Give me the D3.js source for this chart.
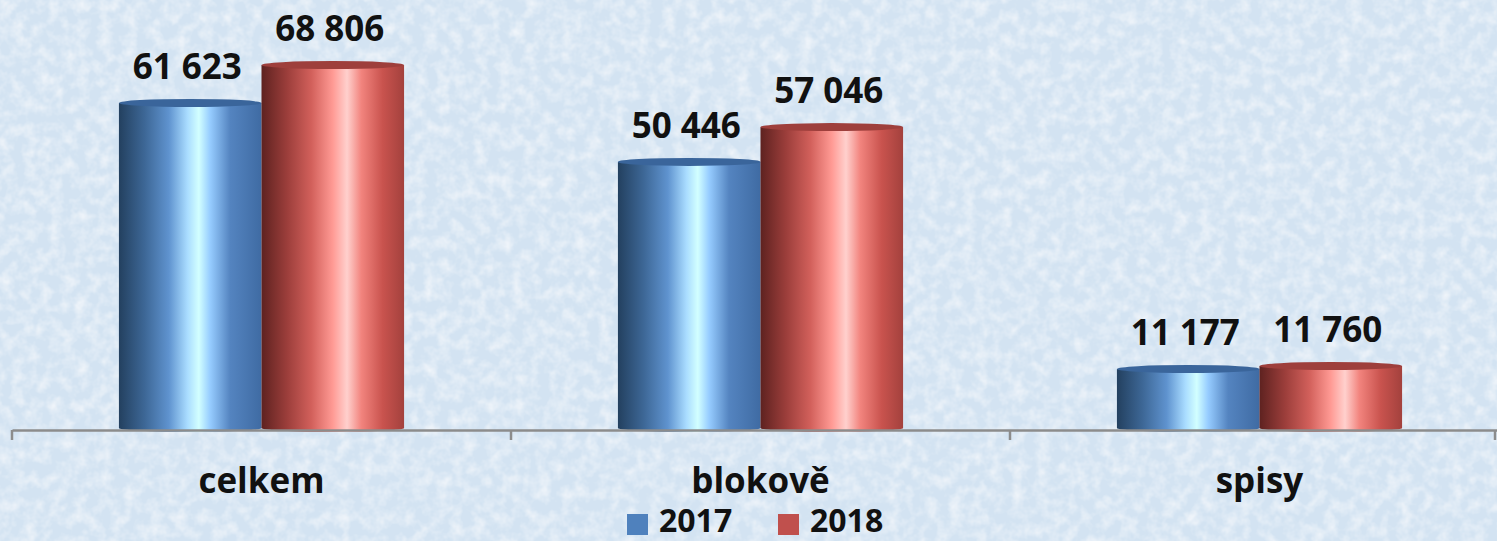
<!DOCTYPE html>
<html>
<head>
<meta charset="utf-8">
<script src="https://d3js.org/d3.v7.min.js"></script>
<style>
  body { margin: 0; background: #dce9f5; }
  svg { display: block; font-family: "Open Sans", "DejaVu Sans", sans-serif; }
</style>
</head>
<body>
<svg width="1497" height="541"></svg>
<script>
// data
var categories = ["celkem", "blokově", "spisy"];
var years = ["2017", "2018"];
var values2017 = [61623, 50446, 11177];
var values2018 = [68806, 57046, 11760];
var legendColors = ["#4f81bd", "#c0504d"];

var svg = d3.select("svg"),
    W = +svg.attr("width"),
    H = +svg.attr("height");

var defs = svg.append("defs");

// paper-ish texture for the background
var tex = defs.append("filter").attr("id", "tex").attr("x", 0).attr("y", 0).attr("width", 1).attr("height", 1);
tex.append("feTurbulence").attr("type", "fractalNoise").attr("baseFrequency", 0.08).attr("numOctaves", 3).attr("seed", 4).attr("result", "n");
tex.append("feColorMatrix").attr("in", "n").attr("type", "matrix")
  .attr("values", "0 0 0 0 1  0 0 0 0 1  0 0 0 0 1  0 0 0 -1.1 0.68").attr("result", "w");
tex.append("feComposite").attr("in", "w").attr("in2", "SourceGraphic").attr("operator", "over");

svg.append("rect").attr("width", W).attr("height", H).attr("fill", "#d3e3f2").attr("filter", "url(#tex)");

// cylinder gradients
var stops = {
  "2017": [[0, "#23405f"], [0.18, "#3d6796"], [0.35, "#5f93cf"], [0.48, "#a9dcff"], [0.56, "#d2ffff"], [0.64, "#96ccff"], [0.78, "#5484c0"], [1, "#3f6ba3"]],
  "2018": [[0, "#5e2220"], [0.18, "#9c3e3b"], [0.35, "#d2605b"], [0.5, "#ff9a94"], [0.6, "#ffd0cd"], [0.7, "#f2847e"], [0.85, "#c9534e"], [1, "#a3413d"]]
};
years.forEach(function(y) {
  var g = defs.append("linearGradient").attr("id", "g" + y).attr("x1", 0).attr("x2", 1).attr("y1", 0).attr("y2", 0);
  stops[y].forEach(function(s) { g.append("stop").attr("offset", s[0]).attr("stop-color", s[1]); });
});

var x0 = d3.scaleBand().domain(categories).range([12, 1509]).paddingInner(0).paddingOuter(0);
var x1 = d3.scaleBand().domain(years).range([0, x0.bandwidth()]).paddingInner(0).paddingOuter(0.75);
var y = d3.scaleLinear().domain([0, 80000]).range([428, 6]);

var data = [];
categories.forEach(function(c, i) {
  data.push({cat: c, year: "2017", v: values2017[i]});
  data.push({cat: c, year: "2018", v: values2018[i]});
});

var ry = 4;
var bars = svg.append("g").selectAll("g").data(data).enter().append("g")
  .attr("transform", function(d) { return "translate(" + (x0(d.cat) + x1(d.year)) + ",0)"; });

var bw = x1.bandwidth();
bars.append("ellipse")
  .attr("cx", bw / 2).attr("cy", y(0)).attr("rx", bw / 2).attr("ry", ry)
  .attr("fill", function(d) { return "url(#g" + d.year + ")"; });
bars.append("rect")
  .attr("x", 0).attr("width", bw)
  .attr("y", function(d) { return y(d.v); })
  .attr("height", function(d) { return y(0) - y(d.v); })
  .attr("fill", function(d) { return "url(#g" + d.year + ")"; });
bars.append("ellipse")
  .attr("cx", bw / 2).attr("cy", function(d) { return y(d.v); }).attr("rx", bw / 2).attr("ry", ry)
  .attr("fill", function(d) { return d.year == "2017" ? "#3a659b" : "#9e3f3c"; });

// value labels
var fmt = function(v) { return d3.format(",")(v).replace(/,/g, " "); };
bars.append("text")
  .attr("x", bw / 2 - 3).attr("y", function(d) { return y(d.v) - 24; })
  .attr("text-anchor", "middle")
  .attr("font-size", 35).attr("font-weight", "bold").attr("fill", "#111")
  .text(function(d) { return fmt(d.v); });

// axis
var axis = svg.append("g").attr("transform", "translate(0,430)")
  .call(d3.axisBottom(x0).tickSize(0).tickFormat(""));
axis.select(".domain").attr("stroke", "#8c8c8c").attr("stroke-width", 2.5);
var tickX = categories.map(function(c) { return x0(c); }).concat([x0.range()[1] - 14]);
axis.selectAll(".sep").data(tickX).enter().append("line")
  .attr("x1", function(d) { return d; }).attr("x2", function(d) { return d; })
  .attr("y1", 0).attr("y2", 10).attr("stroke", "#8c8c8c").attr("stroke-width", 2.5);

svg.append("g").selectAll("text").data(categories).enter().append("text")
  .attr("x", function(c) { return x0(c) + x0.bandwidth() / 2; })
  .attr("y", 493)
  .attr("text-anchor", "middle")
  .attr("font-size", 35).attr("font-weight", "bold").attr("fill", "#111")
  .text(function(c) { return c; });

// legend
var leg = svg.append("g");
var legX = [627, 778];
years.forEach(function(yr, i) {
  leg.append("rect").attr("x", legX[i]).attr("y", 514).attr("width", 21).attr("height", 21).attr("fill", legendColors[i]);
  leg.append("text").attr("x", legX[i] + 32).attr("y", 532)
    .attr("font-size", 32).attr("font-weight", "bold").attr("fill", "#111").text(yr);
});
</script>
</body>
</html>
